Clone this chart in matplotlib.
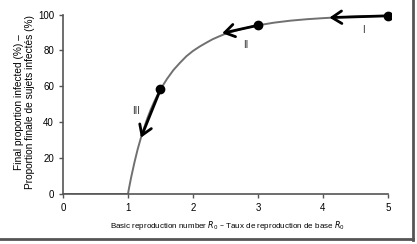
import numpy as np
import matplotlib.pyplot as plt
from matplotlib.lines import Line2D

plt.rcParams['font.family'] = ['Liberation Sans Narrow', 'Liberation Sans', 'DejaVu Sans']

# curve
r0 = [0, 1.0, 1.02, 1.05, 1.1, 1.15, 1.2, 1.25, 1.3, 1.35, 1.4, 1.45, 1.5, 1.6, 1.7,
      1.8, 1.9, 2.0, 2.1, 2.2, 2.3, 2.4, 2.5, 2.75, 3.0, 3.25, 3.5, 3.75, 4.0,
      4.25, 4.5, 5.0]
final = [0, 0, 3.9, 9.4, 17.6, 25.0, 31.4, 37.0, 42.3, 47.0, 51.1, 54.9, 58.3, 64.1,
         69.1, 73.1, 76.8, 79.7, 82.1, 84.2, 86.2, 87.8, 89.3, 92.0, 94.0, 95.5,
         96.6, 97.4, 98.0, 98.5, 98.9, 99.3]

# marked points and arrow tips
dot_x = [5.0, 3.0, 1.5]
dot_y = [99.3, 94.0, 58.3]
tip_x = [4.1, 2.45, 1.2]
tip_y = [98.3, 89.6, 31.4]
labels = ['I', 'II', 'III']
lab_x = [4.62, 2.82, 1.12]
lab_y = [91.5, 83.0, 46.0]

fig = plt.figure(figsize=(4.17, 2.44), dpi=100)
ax = fig.add_axes([0.151, 0.205, 0.787, 0.75])

ax.plot(r0, final, color='#707070', lw=1.4, zorder=2)
for i in range(len(dot_x)):
    ax.annotate('', xy=(tip_x[i], tip_y[i]), xytext=(dot_x[i], dot_y[i]),
                arrowprops=dict(arrowstyle='->,head_length=0.7,head_width=0.45',
                                color='black', lw=2, shrinkA=0, shrinkB=0),
                zorder=3)
    ax.text(lab_x[i], lab_y[i], labels[i], fontsize=7, ha='center', va='center',
            color='#333333')
ax.plot(dot_x, dot_y, 'o', color='black', ms=6, zorder=4)

ax.set_xlim(0, 5.05)
ax.set_ylim(0, 102)
ax.set_xticks([0, 1, 2, 3, 4, 5])
ax.set_yticks([0, 20, 40, 60, 80, 100])
ax.spines['top'].set_visible(False)
ax.spines['right'].set_visible(False)
ax.spines['left'].set_bounds(0, 100)
ax.spines['bottom'].set_bounds(0, 5)
for s in ['left', 'bottom']:
    ax.spines[s].set_color('#555555')
    ax.spines[s].set_linewidth(1.2)
ax.tick_params(colors='#555555', labelcolor='black', labelsize=7, length=3, width=1)

ax.set_xlabel(r'Basic reproduction number $R_0$ – Taux de reproduction de base $R_0$',
              fontsize=5.8, labelpad=4)
ax.set_ylabel('Final proportion infected (%) –\nProportion finale de sujets infectés (%)',
              fontsize=7.3, labelpad=2, linespacing=1.1)

# frame shadow on right and bottom
fig.add_artist(Line2D([0.99, 0.99], [0.015, 1.0], transform=fig.transFigure,
                      color='#555555', lw=2))
fig.add_artist(Line2D([0.0, 0.99], [0.02, 0.02], transform=fig.transFigure,
                      color='#555555', lw=2))

fig.savefig('out.png', dpi=100)
